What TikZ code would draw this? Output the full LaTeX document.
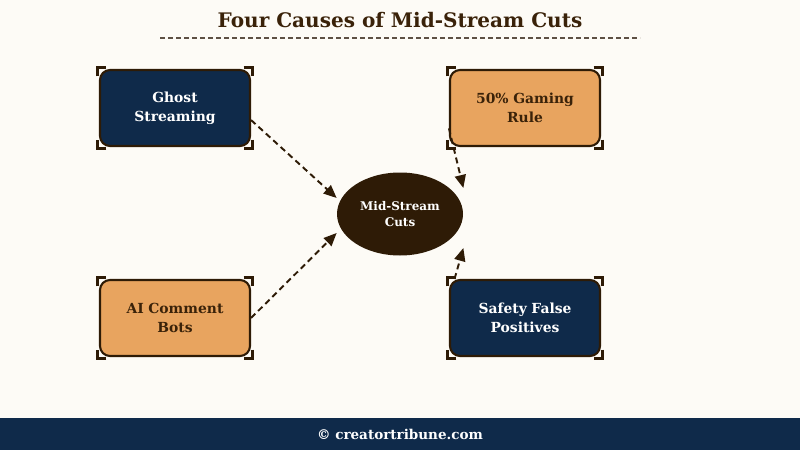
\documentclass[tikz,border=0pt]{standalone}
\usepackage{fontspec}
\setmainfont{DejaVu Serif}
\usetikzlibrary{arrows.meta,calc,shapes.geometric}

\definecolor{cream}{HTML}{FDFBF6}
\definecolor{navy}{HTML}{0F2A4A}
\definecolor{peach}{HTML}{E8A45F}
\definecolor{bark}{HTML}{2E1B06}
\definecolor{ink}{HTML}{3A2209}
\definecolor{rule}{HTML}{5E5044}

\tikzstyle{cause} = [rectangle, rounded corners=0.2cm, draw=bark, line width=1.2pt,
    minimum width=3cm, minimum height=1.52cm, text width=2.7cm, align=center,
    font=\bfseries\fontsize{7.9}{11}\selectfont]
\tikzstyle{darkcause} = [cause, fill=navy, text=white]
\tikzstyle{lightcause} = [cause, fill=peach, text=ink]
\tikzstyle{hub} = [ellipse, fill=bark, text=white, minimum width=2.52cm, minimum height=1.66cm,
    align=center, inner sep=0pt, font=\bfseries\fontsize{6.8}{9}\selectfont]
\tikzstyle{bracket} = [draw=bark, line width=1.4pt]
\tikzstyle{feed} = [draw=bark, line width=1.1pt, dash pattern=on 1.2mm off 0.8mm,
    -{Triangle[length=2.6mm,width=2.2mm]}]

\begin{document}
\begin{tikzpicture}
\fill[cream] (0,0) rectangle (16,9);
\useasboundingbox (0,0) rectangle (16,9);

% title
\node[text=ink, font=\bfseries\fontsize{11.4}{14}\selectfont] (title) at (8,8.6) {Four Causes of Mid-Stream Cuts};
\coordinate (ruleL) at (3.2,8.24);
\coordinate (ruleR) at (12.8,8.24);
\draw[rule, line width=0.8pt, dash pattern=on 0.9mm off 0.7mm] (ruleL) -- (ruleR);

% centre and causes
\node[hub] (cuts) at (8,4.72) {Mid-Stream\\Cuts};
\node[darkcause] (ghost) at (3.5,6.84) {Ghost\\Streaming};
\node[lightcause] (gaming) at (10.5,6.84) {50\% Gaming\\Rule};
\node[lightcause] (ai) at (3.5,2.64) {AI Comment\\Bots};
\node[darkcause] (safety) at (10.5,2.64) {Safety False\\Positives};

% corner marks
\foreach \n in {ghost,gaming,ai,safety}{
    \draw[bracket] ([shift={(-0.03,-0.15)}]\n.north west) -- ++(0,0.18) -- ++(0.18,0);
    \draw[bracket] ([shift={(-0.15,0.03)}]\n.north east) -- ++(0.18,0) -- ++(0,-0.18);
    \draw[bracket] ([shift={(0.03,0.15)}]\n.south east) -- ++(0,-0.18) -- ++(-0.18,0);
    \draw[bracket] ([shift={(0.15,-0.03)}]\n.south west) -- ++(-0.18,0) -- ++(0,0.18);
}

% connectors
\draw[feed] (ghost.-9) -- ($(cuts.west)+(0,0.32)$);
\draw[feed] (ai.east) -- ($(cuts.west)+(0,-0.38)$);
\draw[feed] (gaming.195) -- ($(cuts.east)+(0,0.52)$);
\draw[feed] (safety.151) -- ($(cuts.east)+(0,-0.68)$);

% footer
\fill[navy] (0,0) rectangle (16,0.64);
\node[text=white, font=\bfseries\fontsize{7.7}{10}\selectfont] (footer) at (8,0.32) {© creatortribune.com};
\end{tikzpicture}
\end{document}
